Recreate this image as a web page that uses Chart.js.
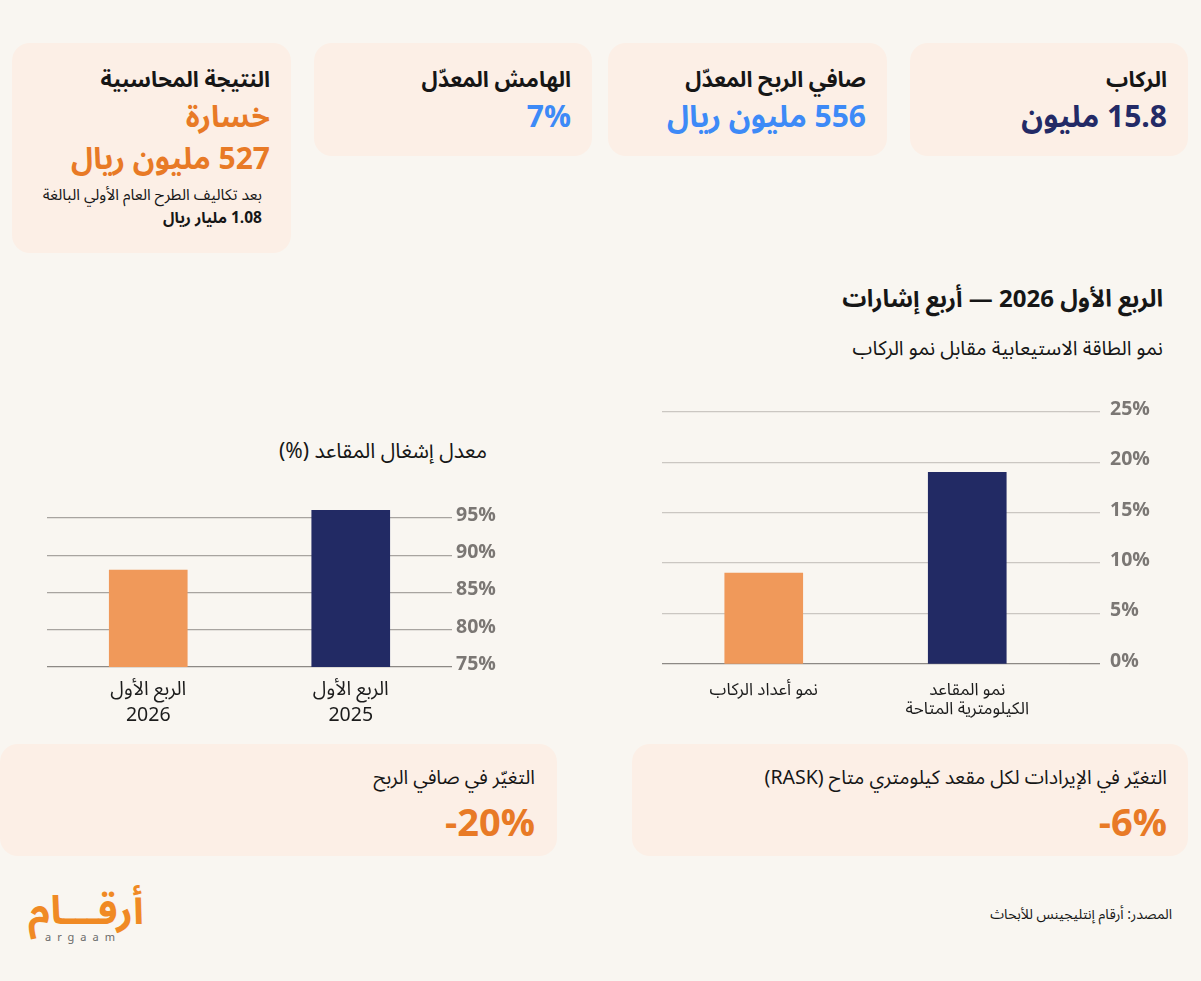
<!DOCTYPE html>
<html lang="ar">
<head>
<meta charset="utf-8">
<title>الربع الأول 2026 — أربع إشارات</title>
<script src="https://cdn.jsdelivr.net/npm/chart.js@4.4.1/dist/chart.umd.min.js"></script>
<style>
    html, body {
        margin: 0;
        padding: 0;
    }
    body {
        width: 1201px;
        height: 981px;
        overflow: hidden;
        position: relative;
        background: #f9f6f1;
        font-family: "Noto Sans Arabic", "Noto Sans", "DejaVu Sans", sans-serif;
        color: #161616;
    }
    .card {
        position: absolute;
        box-sizing: border-box;
        background: #fcefe6;
        border-radius: 18px;
        direction: rtl;
        text-align: right;
        padding: 23px 21px 0 21px;
    }
    .card .title {
        font-size: 22px;
        font-weight: bold;
        line-height: 28px;
    }
    .card .value {
        font-size: 30px;
        font-weight: bold;
        line-height: 40px;
        margin-top: 4px;
    }
    .navy { color: #232a66; }
    .blue { color: #3d8af7; }
    .orange { color: #e87a26; }
    .note {
        font-size: 15.5px;
        line-height: 22px;
        padding-right: 8px;
    }
    .abs {
        position: absolute;
        direction: rtl;
        text-align: right;
        white-space: nowrap;
    }
    canvas {
        position: absolute;
    }
    .wide .title {
        font-weight: normal;
        font-size: 19.5px;
    }
    .wide .value {
        font-size: 38px;
        line-height: 44px;
        margin-top: 10px;
    }
</style>
</head>
<body>

<div class="card" style="left:910px; top:43px; width:278px; height:113px;">
    <div class="title">الركاب</div>
    <div class="value navy">15.8 مليون</div>
</div>
<div class="card" style="left:608px; top:43px; width:279px; height:113px;">
    <div class="title">صافي الربح المعدّل</div>
    <div class="value blue">556 مليون ريال</div>
</div>
<div class="card" style="left:314px; top:43px; width:278px; height:113px;">
    <div class="title">الهامش المعدّل</div>
    <div class="value blue">7%</div>
</div>
<div class="card" style="left:12px; top:43px; width:279px; height:210px;">
    <div class="title">النتيجة المحاسبية</div>
    <div class="value orange">خسارة</div>
    <div class="value orange" style="margin-top:2px;">527 مليون ريال</div>
    <div class="note" style="margin-top:4px;">بعد تكاليف الطرح العام الأولي البالغة</div>
    <div class="note" style="margin-top:1px; font-weight:bold;">1.08 مليار ريال</div>
</div>

<div class="abs" style="right:38px; top:284px; font-size:24px; font-weight:bold; line-height:32px;">الربع الأول 2026 — أربع إشارات</div>
<div class="abs" style="right:38px; top:335px; font-size:20px; line-height:28px;">نمو الطاقة الاستيعابية مقابل نمو الركاب</div>
<div class="abs" style="right:714px; top:437px; font-size:21px; line-height:28px;">معدل إشغال المقاعد (%)</div>

<canvas id="capacityChart" width="520" height="340" style="left:650px; top:390px;"></canvas>
<canvas id="occupancyChart" width="480" height="250" style="left:35px; top:484px;"></canvas>

<div class="card wide" style="left:632px; top:744px; width:556px; height:112px; padding-top:20px;">
    <div class="title">التغيّر في الإيرادات لكل مقعد كيلومتري متاح (RASK)</div>
    <div class="value orange" dir="ltr" style="text-align:right;">-6%</div>
</div>
<div class="card wide" style="left:0px; top:744px; width:557px; height:112px; padding-top:20px; padding-right:22px;">
    <div class="title">التغيّر في صافي الربح</div>
    <div class="value orange" dir="ltr" style="text-align:right;">-20%</div>
</div>

<div style="position:absolute; left:28px; top:890px; width:116px; text-align:center;">
    <div style="font-size:40px; font-weight:bold; color:#f08a24; line-height:44px; direction:rtl;">أرقـــام</div>
    <div style="font-size:11px; color:#6a6a6a; letter-spacing:6px; line-height:12px; margin-top:-2px; margin-left:-6px;">argaam</div>
</div>
<div class="abs" style="right:29px; top:904px; font-size:14px; line-height:22px;">المصدر: أرقام إنتليجينس للأبحاث</div>

<script>
const capacityLabels = [['نمو أعداد الركاب'], ['نمو المقاعد', 'الكيلومترية المتاحة']];
const capacityGrowth = [9, 19];
const capacityTicks = [0, 5, 10, 15, 20, 25];

const occupancyLabels = [['الربع الأول', '2026'], ['الربع الأول', '2025']];
const occupancyRate = [88, 96];
const occupancyTicks = [75, 80, 85, 90, 95];

const barColors = ['#f0995a', '#222a64'];

const fontFamily = '"Noto Sans Arabic", "Noto Sans", "DejaVu Sans", sans-serif';

function createBarChart(id, labels, values, tickValues, cfg) {
    const ctx = document.getElementById(id).getContext('2d');
    const baseValue = tickValues[0];

    return new Chart(ctx, {
        type: 'bar',
        data: {
            labels: labels,
            datasets: [{
                data: values,
                backgroundColor: barColors,
                borderWidth: 0,
                barThickness: 78
            }]
        },
        options: {
            responsive: false,
            animation: false,
            layout: { padding: { left: cfg.padLeft, top: cfg.padTop, right: 0, bottom: 0 } },
            plugins: {
                legend: { display: false },
                tooltip: { enabled: false }
            },
            scales: {
                x: {
                    grid: { display: false },
                    border: { display: false },
                    ticks: {
                        color: '#1c1c1c',
                        padding: cfg.xPad,
                        maxRotation: 0,
                        autoSkip: false,
                        font: { family: fontFamily, size: cfg.xFont, lineHeight: cfg.xLine }
                    },
                    afterFit: scale => { scale.height = cfg.xHeight; }
                },
                y: {
                    position: 'right',
                    min: cfg.min,
                    max: cfg.max,
                    border: { display: false },
                    grid: {
                        color: c => (c.tick && c.tick.value === baseValue) ? '#8d8985' : cfg.gridColor,
                        lineWidth: 1.3,
                        drawTicks: cfg.tickLength > 0,
                        tickLength: cfg.tickLength
                    },
                    ticks: {
                        color: '#7b7774',
                        padding: cfg.yPad,
                        font: { family: fontFamily, size: 19.5, weight: 'bold' },
                        callback: v => v + '%'
                    },
                    afterBuildTicks: scale => {
                        scale.ticks = tickValues.map(v => ({ value: v }));
                    },
                    afterFit: scale => { scale.width = cfg.yWidth; }
                }
            }
        }
    });
}

createBarChart('capacityChart', capacityLabels, capacityGrowth, capacityTicks, {
    min: 0, max: 25,
    padLeft: 12, padTop: 18,
    yWidth: 101, tickLength: 31, yPad: 10,
    xHeight: 66, xPad: 11, xFont: 17, xLine: 1.1,
    gridColor: '#cbc7c2'
});

createBarChart('occupancyChart', occupancyLabels, occupancyRate, occupancyTicks, {
    min: 75, max: 97,
    padLeft: 12, padTop: 19,
    yWidth: 63, tickLength: 0, yPad: 4,
    xHeight: 67, xPad: 4, xFont: 19.5, xLine: 1.35,
    gridColor: '#a8a4a0'
});
</script>
</body>
</html>
